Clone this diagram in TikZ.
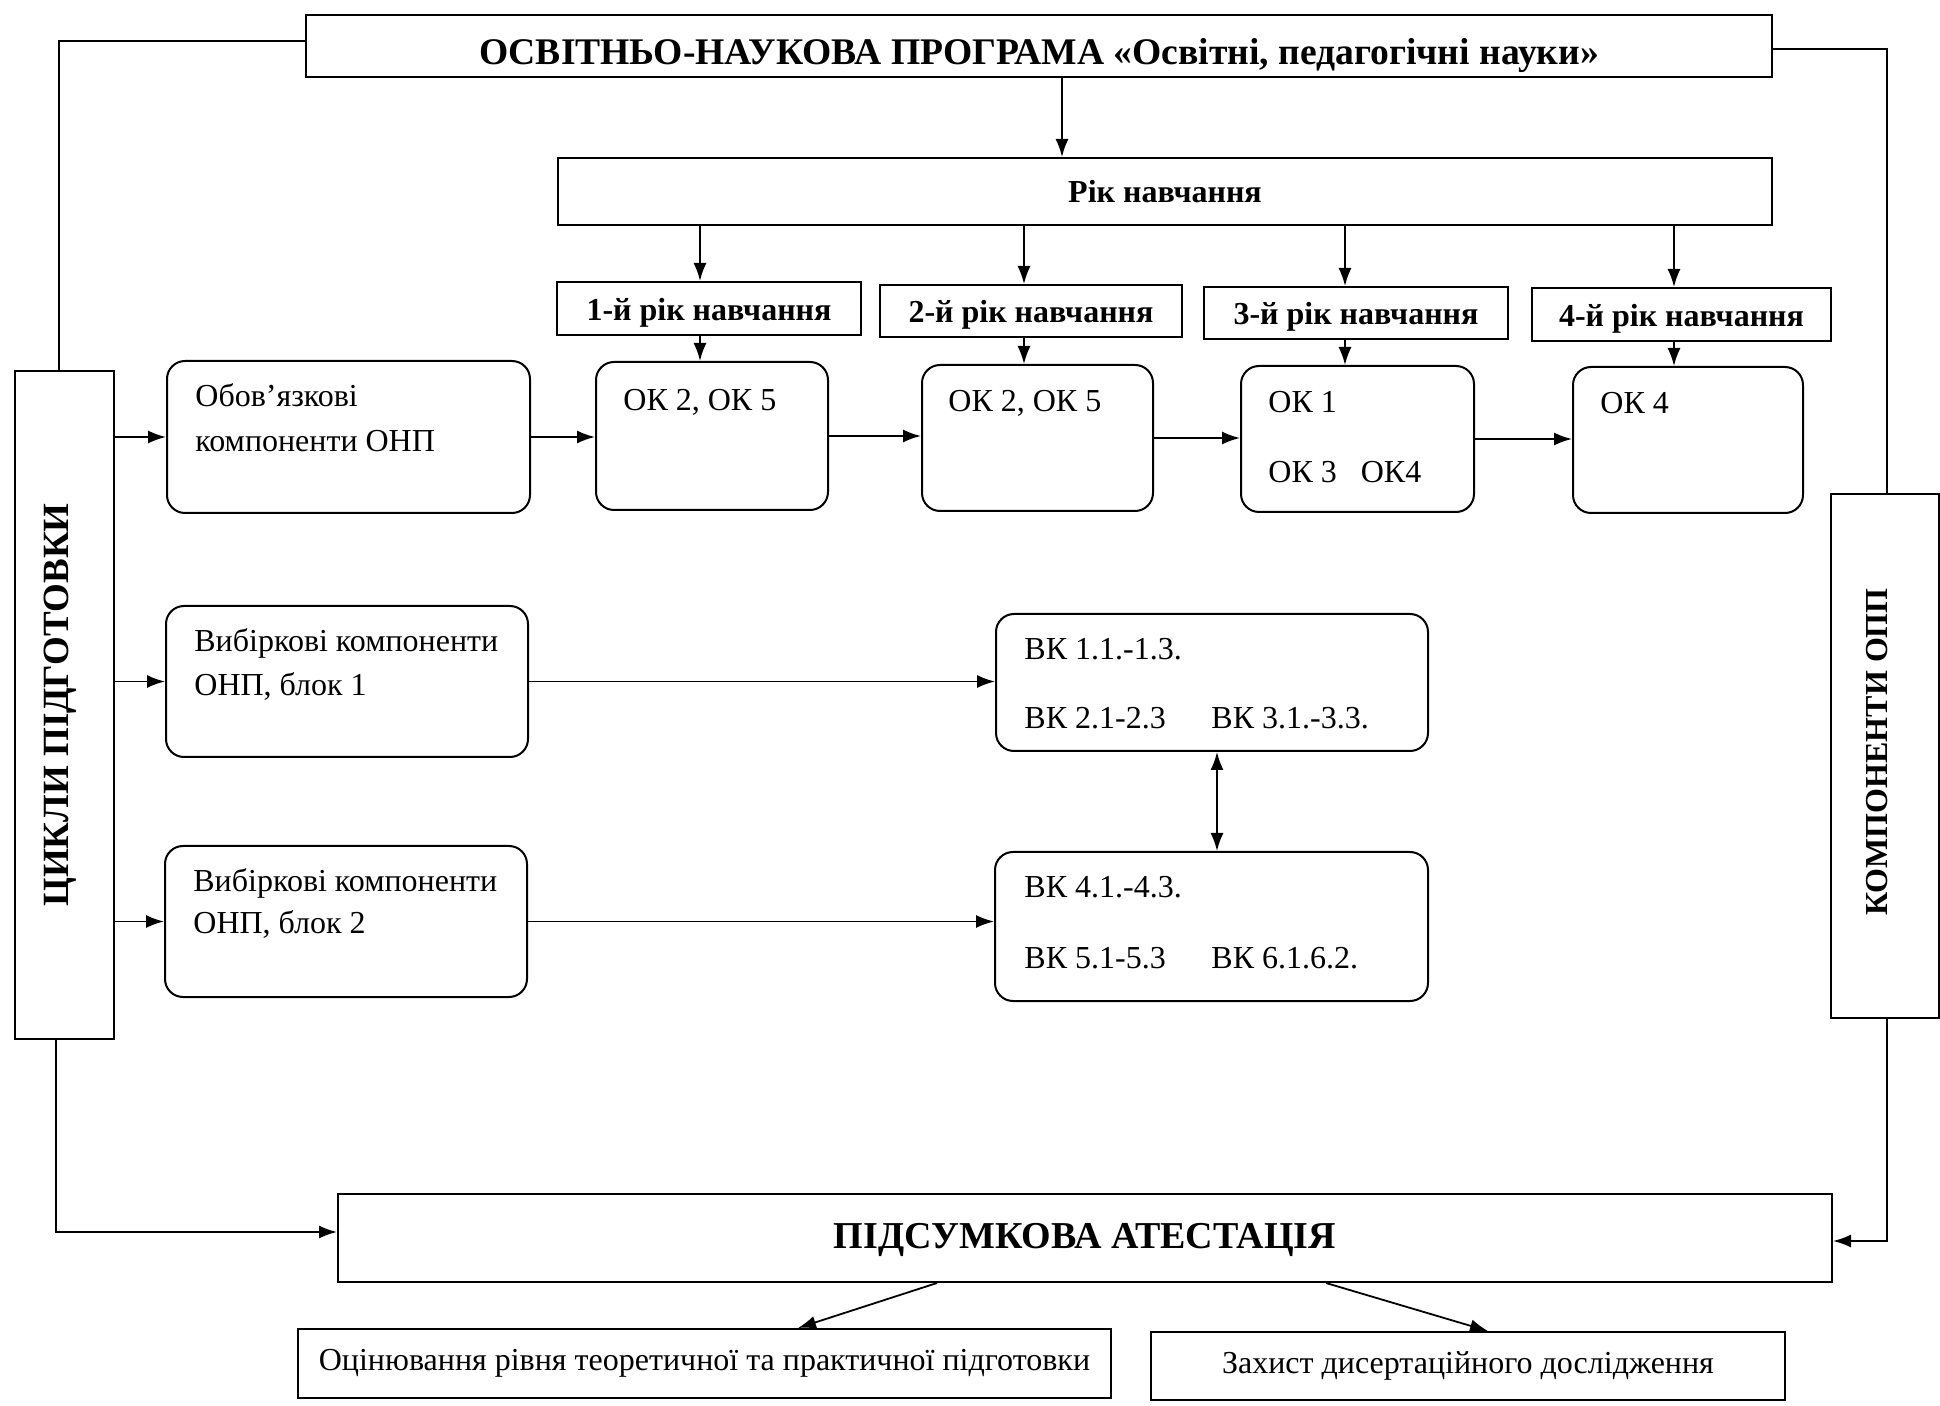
\documentclass[tikz,border=0pt]{standalone}
\usepackage{fontspec}
\setmainfont{Liberation Serif}
\usetikzlibrary{arrows.meta,fit,calc}
\begin{document}
\begin{tikzpicture}[x=0.5pt,y=-0.5pt,
  box/.style={draw,line width=1pt,inner sep=0pt},
  rbox/.style={box,rounded corners=9pt},
  conn/.style={line width=0.9pt},
  arr/.style={conn,-{Latex[length=9pt,width=6.5pt]}},
  darr/.style={conn,{Latex[length=9pt,width=6.5pt]}-{Latex[length=9pt,width=6.5pt]}},
  tx/.style={inner sep=0pt,anchor=base west,font=\fontsize{16}{19}\selectfont},
  lbl/.style={inner sep=0pt},
  hdr/.style={lbl,font=\bfseries\fontsize{16}{19}\selectfont},
]
\useasboundingbox (0,0) rectangle (1940,1406);

% main boxes
\node[box,fit={(306,15) (1772,77)}] (top) {};
\node[lbl,font=\bfseries\fontsize{18.8}{22}\selectfont] (topt) at ([yshift=-5pt]top.center) {ОСВІТНЬО-НАУКОВА ПРОГРАМА «Освітні, педагогічні науки»};
\node[box,fit={(558,158) (1772,225)}] (rik) {};
\node[hdr] (rikt) at (rik.center) {Рік навчання};
\node[box,fit={(557,282) (861,335)}] (y1) {};
\node[hdr] (y1t) at ([yshift=-2pt]y1.center) {1-й рік навчання};
\node[box,fit={(880,285) (1182,337)}] (y2) {};
\node[hdr] (y2t) at ([yshift=-2pt]y2.center) {2-й рік навчання};
\node[box,fit={(1204,287) (1508,339)}] (y3) {};
\node[hdr] (y3t) at ([yshift=-2pt]y3.center) {3-й рік навчання};
\node[box,fit={(1532,288) (1831,341)}] (y4) {};
\node[hdr] (y4t) at ([yshift=-2pt]y4.center) {4-й рік навчання};

\node[box,fit={(15,371) (114,1039)}] (cyc) {};
\node[lbl,font=\bfseries\fontsize{18.5}{22}\selectfont,rotate=90] (cyct) at ([xshift=-2pt]cyc.center) {ЦИКЛИ ПІДГОТОВКИ};
\node[box,fit={(1831,494) (1939,1018)}] (comp) {};
\node[hdr,rotate=90] (compt) at ([xshift=-4pt,yshift=2pt]comp.center) {КОМПОНЕНТИ ОПП};

% rounded boxes
\node[rbox,fit={(167,361) (530,513)}] (obl) {};
\node[rbox,fit={(166,606) (528,757)}] (vib1) {};
\node[rbox,fit={(165,846) (527,997)}] (vib2) {};
\node[rbox,fit={(596,362) (828,510)}] (ok1) {};
\node[rbox,fit={(922,365) (1153,511)}] (ok2) {};
\node[rbox,fit={(1241,366) (1474,512)}] (ok3) {};
\node[rbox,fit={(1573,367) (1803,513)}] (ok4) {};
\node[rbox,fit={(996,614) (1428,751)}] (vk1) {};
\node[rbox,fit={(995,852) (1428,1001)}] (vk2) {};

% texts in rounded boxes
\node[tx] (obla) at (195,407) {Обов’язкові};
\node[tx] (oblb) at (195,452) {компоненти ОНП};
\node[tx] (vib1a) at (194,652) {Вибіркові компоненти};
\node[tx] (vib1b) at (194,696) {ОНП, блок 1};
\node[tx] (vib2a) at (193,892) {Вибіркові компоненти};
\node[tx] (vib2b) at (193,934) {ОНП, блок 2};
\node[tx] (ok1a) at (623,411) {ОК 2, ОК 5};
\node[tx] (ok2a) at (948,412) {ОК 2, ОК 5};
\node[tx] (ok3a) at (1268,413) {ОК 1};
\node[tx] (ok3b) at (1268,483) {ОК 3\hspace{12pt}ОК4};
\node[tx] (ok4a) at (1600,414) {ОК 4};
\node[tx] (vk1a) at (1024,660) {ВК 1.1.-1.3.};
\node[tx] (vk1b) at (1024,729) {ВК 2.1-2.3};
\node[tx] (vk1c) at (1211,729) {ВК 3.1.-3.3.};
\node[tx] (vk2a) at (1024,898) {ВК 4.1.-4.3.};
\node[tx] (vk2b) at (1024,968) {ВК 5.1-5.3};
\node[tx] (vk2c) at (1211,968) {ВК 6.1.6.2.};

% bottom
\node[box,fit={(338,1194) (1832,1282)}] (fin) {};
\node[lbl,font=\bfseries\fontsize{19}{22}\selectfont] (fint) at ([yshift=-1pt]fin.center) {ПІДСУМКОВА АТЕСТАЦІЯ};
\node[box,fit={(298,1329) (1111,1398)}] (eval) {};
\node[lbl,font=\fontsize{16}{19}\selectfont] (evalt) at (eval.center) {Оцінювання рівня теоретичної та практичної підготовки};
\node[box,fit={(1151,1332) (1785,1400)}] (zah) {};
\node[lbl,font=\fontsize{16}{19}\selectfont] (zaht) at (zah.center) {Захист дисертаційного дослідження};

% coordinates
\coordinate (c0) at (1062,0);
\coordinate (a1) at (700,0);
\coordinate (a2) at (1024,0);
\coordinate (a3) at (1345,0);
\coordinate (a4) at (1674,0);
\coordinate (d1) at (1217,0);
\coordinate (l1) at (59,41);
\coordinate (l3) at (56,1232);
\coordinate (r1) at (1887,49);
\coordinate (r2) at (1887,1241);
\coordinate (e1) at (937,0);
\coordinate (e2) at (798,0);
\coordinate (e3) at (1326,0);
\coordinate (e4) at (1488,0);

% connectors
\draw[arr] (top.south -| c0) -- (rik.north -| c0);
\draw[arr] (rik.south -| a1) -- (y1.north -| a1);
\draw[arr] (rik.south -| a2) -- (y2.north -| a2);
\draw[arr] (rik.south -| a3) -- (y3.north -| a3);
\draw[arr] (rik.south -| a4) -- (y4.north -| a4);
\draw[arr] (y1.south -| a1) -- (ok1.north -| a1);
\draw[arr] (y2.south -| a2) -- (ok2.north -| a2);
\draw[arr] (y3.south -| a3) -- (ok3.north -| a3);
\draw[arr] (y4.south -| a4) -- (ok4.north -| a4);

\draw[arr] (cyc.east |- obl.west) -- (obl.west);
\draw[arr] (cyc.east |- vib1.west) -- (vib1.west);
\draw[arr] (cyc.east |- vib2.west) -- (vib2.west);
\draw[arr] (obl.east) -- (obl.east -| ok1.west);
\draw[arr] (ok1.east) -- (ok1.east -| ok2.west);
\draw[arr] (ok2.east) -- (ok2.east -| ok3.west);
\draw[arr] (ok3.east) -- (ok3.east -| ok4.west);
\draw[arr] (vib1.east) -- (vib1.east -| vk1.west);
\draw[arr] (vib2.east) -- (vib2.east -| vk2.west);
\draw[darr] (vk1.south -| d1) -- (vk2.north -| d1);

\draw[conn] (top.west |- l1) -| (cyc.north -| l1);
\draw[arr] (cyc.south -| l3) |- (fin.west |- l3);
\draw[conn] (top.east |- r1) -| (comp.north -| r1);
\draw[arr] (comp.south -| r2) |- (fin.east |- r2);

\draw[arr] (fin.south -| e1) -- (eval.north -| e2);
\draw[arr] (fin.south -| e3) -- (zah.north -| e4);
\end{tikzpicture}
\end{document}
